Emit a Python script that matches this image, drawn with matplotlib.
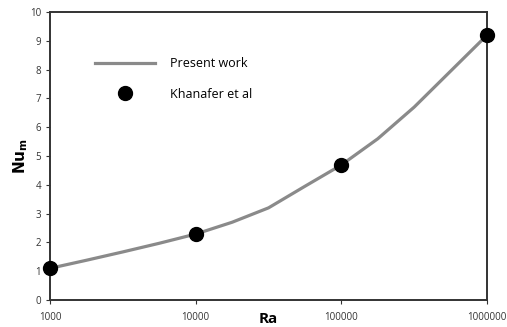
import numpy as np
import matplotlib.pyplot as plt
from matplotlib.ticker import FixedLocator, NullLocator

# present work curve (quarter decades)
ra_line = [1000, 1778, 3162, 5623, 10000, 17783, 31623, 56234,
           100000, 177828, 316228, 562341, 1000000]
nu_line = [1.1, 1.38, 1.67, 1.97, 2.29, 2.7, 3.2, 3.95,
           4.69, 5.6, 6.7, 7.95, 9.2]

# Khanafer et al points
ra_pts = [1000, 10000, 100000, 1000000]
nu_pts = [1.1, 2.29, 4.69, 9.2]

xticks = [1000, 10000, 100000, 1000000]
yticks = list(range(0, 11))

plt.rcParams['font.family'] = ['Open Sans', 'DejaVu Sans']

fig = plt.figure(figsize=(5.07, 3.27), dpi=100)
ax = fig.add_axes([0.0986, 0.0826, 0.862, 0.8804])

ax.plot(ra_line, nu_line, color='#8a8a8a', lw=2.3, label='Present work', zorder=2)
ax.plot(ra_pts, nu_pts, 'o', color='black', ms=10, label='Khanafer et al', zorder=3,
        clip_on=False)

ax.set_xscale('log')
ax.set_xlim(1000, 1000000)
ax.set_ylim(0, 10)
ax.xaxis.set_major_locator(FixedLocator(xticks))
ax.xaxis.set_minor_locator(NullLocator())
ax.set_xticklabels([str(t) for t in xticks])
ax.set_yticks(yticks)

ax.tick_params(axis='both', labelsize=7, colors='#333333', length=3, width=0.8)
ax.tick_params(axis='x', pad=6)
for s in ax.spines.values():
    s.set_color('#333333')
    s.set_linewidth(1.4)

ax.set_xlabel('Ra', fontsize=11, fontweight='bold', va='center')
ax.xaxis.set_label_coords(0.5, -0.065)
ax.set_ylabel(r'$\mathbf{Nu_m}$', fontsize=11, va='center')
ax.yaxis.set_label_coords(-0.068, 0.5)

ax.legend(loc='upper left', bbox_to_anchor=(0.103, 0.843), frameon=False, fontsize=9,
          handlelength=4.8, labelspacing=1.4, handletextpad=1.2,
          borderpad=0, borderaxespad=0)

fig.savefig('out.png', dpi=100)
